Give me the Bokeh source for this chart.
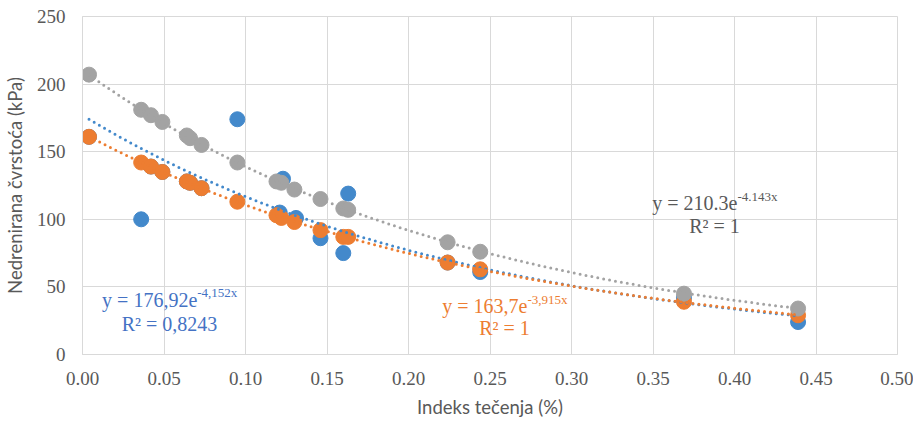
import numpy as np
from bokeh.plotting import figure
from bokeh.models import ColumnDataSource, FixedTicker, NumeralTickFormatter, Range1d
from bokeh.core.properties import value
from bokeh.embed import file_html
from bokeh.resources import INLINE

# ---- data ----
x_vals = [0.004, 0.036, 0.042, 0.049, 0.064, 0.066, 0.073, 0.095, 0.119, 0.122,
          0.130, 0.146, 0.160, 0.163, 0.224, 0.244, 0.369, 0.439]
gray_y = [207, 181, 177, 172, 162, 160, 155, 142, 128, 127,
          122, 115, 108, 107, 83, 76, 45, 34]
orange_y = [161, 142, 139, 135, 128, 127, 123, 113, 103, 101,
            98, 92, 87, 87, 68, 63, 39, 29]
blue_x = [0.004, 0.036, 0.042, 0.049, 0.064, 0.066, 0.073, 0.095, 0.121, 0.123,
          0.131, 0.146, 0.160, 0.163, 0.224, 0.244, 0.369, 0.439]
blue_y = [161, 100, 139, 135, 128, 127, 123, 174, 105, 130,
          101, 86, 75, 119, 68, 61, 42, 24]

# exponential trendline coefficients (from the chart labels)
fit_a = {"blue": 176.92, "orange": 163.7, "gray": 210.3}
fit_b = {"blue": -4.152, "orange": -3.915, "gray": -4.143}
eq_main = {"blue": "y = 176,92e", "orange": "y = 163,7e", "gray": "y = 210.3e"}
eq_sup = {"blue": "-4,152x", "orange": "-3,915x", "gray": "-4.143x"}
eq_r2 = {"blue": "R² = 0,8243", "orange": "R² = 1", "gray": "R² = 1"}

x_ticks = [0.0, 0.05, 0.1, 0.15, 0.2, 0.25, 0.3, 0.35, 0.4, 0.45, 0.5]
y_ticks = [0, 50, 100, 150, 200, 250]

colors = {"blue": "#4389CB", "orange": "#ED7D31", "gray": "#A3A3A3"}
label_colors = {"blue": "#4472C4", "orange": "#ED7D31", "gray": "#595959"}

SERIF = "'Liberation Serif', 'Times New Roman', serif"

# label placement (data coordinates): junction x, baseline y, centre x, r2 baseline
label_pos = {
    "blue": (0.0704, 40.5, 0.0534, 22.5),
    "orange": (0.2730, 35.6, 0.2589, 19.5),
    "gray": (0.4018, 112.0, 0.3877, 95.0),
}

p = figure(width=913, height=421, output_backend="svg", toolbar_location=None,
           x_range=Range1d(0, 0.5), y_range=Range1d(0, 250),
           min_border_left=82, min_border_right=16, min_border_top=16, min_border_bottom=67)
p.outline_line_color = "#D9D9D9"
p.background_fill_color = "white"
p.border_fill_color = "white"

for ax in (p.xaxis[0], p.yaxis[0]):
    ax.axis_line_color = "#D9D9D9"
    ax.major_tick_line_color = None
    ax.minor_tick_line_color = None
    ax.major_tick_out = 0
    ax.major_tick_in = 0
    ax.major_label_text_font = SERIF
    ax.major_label_text_font_size = "19px"
    ax.major_label_text_color = "#595959"
    ax.axis_label_text_font = "Lato"
    ax.axis_label_text_font_size = "18.5px"
    ax.axis_label_text_font_style = "normal"
    ax.axis_label_text_color = "#595959"

p.xaxis.ticker = FixedTicker(ticks=x_ticks)
p.yaxis.ticker = FixedTicker(ticks=y_ticks)
p.xaxis.formatter = NumeralTickFormatter(format="0.00")
p.xaxis.axis_label = "Indeks tečenja (%)"
p.yaxis.axis_label = "Nedrenirana čvrstoća (kPa)"
p.xaxis.major_label_standoff = 17
p.yaxis.major_label_standoff = 17
p.xaxis.axis_label_standoff = 8
p.yaxis.axis_label_standoff = 8

p.xgrid.ticker = FixedTicker(ticks=x_ticks)
p.ygrid.ticker = FixedTicker(ticks=y_ticks)
p.grid.grid_line_color = "#D9D9D9"
p.grid.grid_line_width = 1

series = {
    "blue": (blue_x, blue_y),
    "orange": (x_vals, orange_y),
    "gray": (x_vals, gray_y),
}

for name in ["blue", "orange", "gray"]:
    xs, ys = series[name]
    p.scatter(xs, ys, size=15, fill_color=colors[name], line_color=colors[name],
              line_width=1)

for name in ["blue", "orange", "gray"]:
    xs, ys = series[name]
    tx = np.linspace(min(xs), max(xs), 200)
    ty = fit_a[name] * np.exp(fit_b[name] * tx)
    p.line(tx, ty, line_color=colors[name], line_width=3, line_dash="0 6",
           line_cap="round")

for name in ["blue", "orange", "gray"]:
    jx, by, cx, ry = label_pos[name]
    src = ColumnDataSource(dict(x=[jx], y=[by], t=[eq_main[name]], s=[eq_sup[name]]))
    p.text(x="x", y="y", text="t", source=src, text_align="right",
           text_baseline="alphabetic", text_font=value(SERIF),
           text_font_size="20px", text_color=label_colors[name])
    p.text(x="x", y="y", text="s", source=src, text_align="left",
           text_baseline="alphabetic", y_offset=-7, text_font=value(SERIF),
           text_font_size="13px", text_color=label_colors[name])
    src2 = ColumnDataSource(dict(x=[cx], y=[ry], t=[eq_r2[name]]))
    p.text(x="x", y="y", text="t", source=src2, text_align="center",
           text_baseline="alphabetic", text_font=value(SERIF),
           text_font_size="20px", text_color=label_colors[name])

open("out.html", "w").write(file_html(p, INLINE))
